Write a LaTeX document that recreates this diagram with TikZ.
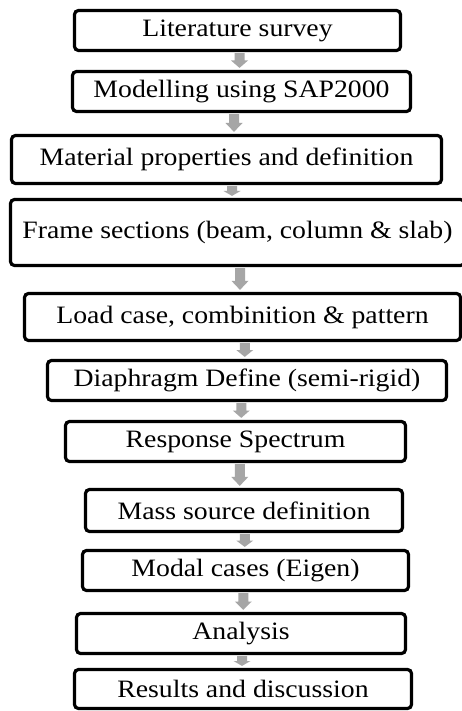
\documentclass[tikz,border=0pt]{standalone}
\usepackage{fontspec}
\setmainfont{Liberation Serif}[FakeStretch=1.11]
\usetikzlibrary{calc}
\definecolor{arrowgray}{RGB}{166,166,166}

% short grey block arrow between two stacked boxes; the head takes about half the gap
\newcommand\flowarrow[2]{%
  \fill[arrowgray] let \p1=($(#1.south)!.5!(#2.north)$), \p2=(#1.south), \p3=(#2.north),
      \n1={min(9pt,0.5*(\y2-\y3-3pt))} in
    (\x1-5pt,\y2-1pt) -- (\x1+5pt,\y2-1pt) -- (\x1+5pt,\y3+2pt+\n1) -- (\x1+8.5pt,\y3+2pt+\n1)
    -- (\x1,\y3+2pt) -- (\x1-8.5pt,\y3+2pt+\n1) -- (\x1-5pt,\y3+2pt+\n1) -- cycle;}

\begin{document}
\begin{tikzpicture}[x=1pt,y=-1pt,
  stepbox/.style={draw, line width=3.2pt, rounded corners=4pt, inner sep=0pt,
    font=\fontsize{25}{30}\selectfont, align=center}]
  \useasboundingbox (0,0) rectangle (462,711);
  \fill[white] (0,0) rectangle (462,711);

  \node[stepbox, minimum width=326, minimum height=40] (lit)   at (237.5,30.5) {Literature survey};
  \node[stepbox, minimum width=338, minimum height=40] (mod)   at (241.5,91.5) {Modelling using SAP2000};
  \node[stepbox, minimum width=430, minimum height=48] (mat)   at (226.5,159.5) {Material properties and definition};
  \node[stepbox, minimum width=454, minimum height=66] (frame) at (237.5,232.5) {Frame sections (beam, column \& slab)};
  \node[stepbox, minimum width=436, minimum height=47] (load)  at (242.5,317) {Load case, combinition \& pattern};
  \node[stepbox, minimum width=399, minimum height=40] (dia)   at (247,380.5) {Diaphragm Define (semi-rigid)};
  \node[stepbox, minimum width=340, minimum height=40] (resp)  at (235.5,441.5) {Response Spectrum};
  \node[stepbox, minimum width=317, minimum height=42] (mass)  at (244,510.5) {Mass source definition};
  \node[stepbox, minimum width=326, minimum height=40] (modal) at (245.5,570.5) {Modal cases (Eigen)};
  \node[stepbox, minimum width=329, minimum height=40] (ana)   at (241,633.5) {Analysis};
  \node[stepbox, minimum width=337, minimum height=39] (res)   at (243,689) {Results and discussion};

  \flowarrow{lit}{mod}
  \flowarrow{mod}{mat}
  \flowarrow{mat}{frame}
  \flowarrow{frame}{load}
  \flowarrow{load}{dia}
  \flowarrow{dia}{resp}
  \flowarrow{resp}{mass}
  \flowarrow{mass}{modal}
  \flowarrow{modal}{ana}
  \flowarrow{ana}{res}
\end{tikzpicture}
\end{document}
